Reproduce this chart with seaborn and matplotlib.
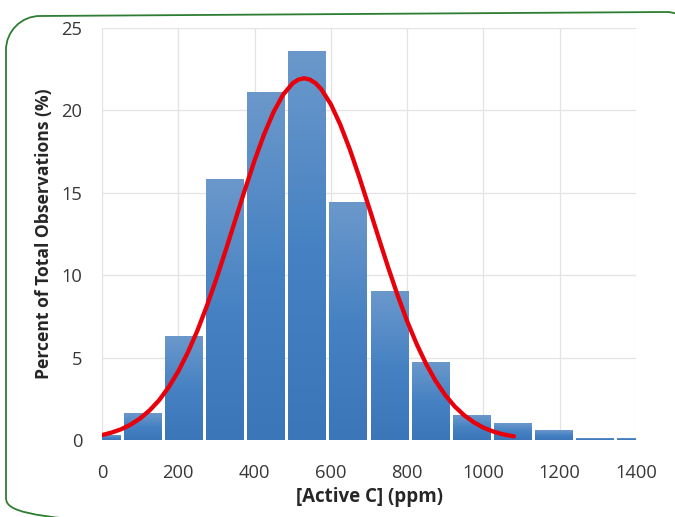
import numpy as np
import pandas as pd
import matplotlib
matplotlib.use("Agg")
import matplotlib.pyplot as plt
import seaborn as sns
from matplotlib.patches import PathPatch
from matplotlib.path import Path
from matplotlib.colors import LinearSegmentedColormap

# ---------------- data ----------------
bin_labels = ["b01", "b02", "b03", "b04", "b05", "b06", "b07",
              "b08", "b09", "b10", "b11", "b12", "b13", "b14"]
bin_percent = [0.3, 1.6, 6.3, 15.8, 21.1, 23.6, 14.4,
               9.0, 4.7, 1.5, 1.0, 0.6, 0.1, 0.1]

curve_x = [0, 25, 50, 75, 100, 125, 150, 175, 200, 225, 250, 275, 300,
           325, 350, 375, 400, 425, 450, 475, 500, 515, 530, 545, 560,
           575, 600, 625, 650, 675, 700, 725, 750, 775, 800, 825, 850,
           875, 900, 925, 950, 975, 1000, 1025, 1050, 1080]
curve_y = [0.30, 0.45, 0.65, 0.93, 1.31, 1.80, 2.42, 3.21, 4.17, 5.31,
           6.63, 8.14, 9.79, 11.56, 13.39, 15.21, 16.96, 18.55, 19.91,
           20.96, 21.65, 21.87, 21.95, 21.87, 21.65, 21.28, 20.37, 19.12,
           17.62, 15.92, 14.12, 12.29, 10.49, 8.78, 7.21, 5.82, 4.60, 3.57,
           2.72, 2.03, 1.49, 1.07, 0.75, 0.52, 0.35, 0.22]

x_ticks = [0, 200, 400, 600, 800, 1000, 1200, 1400]
y_ticks = [0, 5, 10, 15, 20, 25]

x_label = "[Active C] (ppm)"
y_label = "Percent of Total Observations (%)"

# ---------------- style ----------------
sns.set_style("white")
plt.rcParams["font.family"] = ["Open Sans", "DejaVu Sans"]

W, H = 675, 517
fig = plt.figure(figsize=(W / 100, H / 100), dpi=100)
fig.patch.set_facecolor("white")

left, right = 102 / W, 636 / W
bottom, top = (H - 440) / H, (H - 28) / H
ax = fig.add_axes([left, bottom, right - left, top - bottom])

# base axis: value scale, ticks, grid
ax.set_xlim(x_ticks[0], x_ticks[-1])
ax.set_ylim(y_ticks[0], y_ticks[-1])
ax.set_xticks(x_ticks)
ax.set_yticks(y_ticks)
ax.grid(True, color="#e3e3e3", linewidth=0.9)
for s in ax.spines.values():
    s.set_visible(False)
ax.tick_params(axis="both", length=0, labelsize=13.2, colors="#383838")
ax.tick_params(axis="x", pad=17)
ax.tick_params(axis="y", pad=14)
ax.set_xlabel(x_label, fontsize=13.5, fontweight="bold", color="#262626", labelpad=4)
ax.set_ylabel(y_label, fontsize=12.6, fontweight="bold", color="#262626", labelpad=6)

# bar layer: categorical axis
ax_bar = ax.twiny()
df = pd.DataFrame({"bin": bin_labels, "percent": bin_percent})
sns.barplot(data=df, x="bin", y="percent", ax=ax_bar, width=0.925,
            color="#4a86c6", saturation=1, edgecolor="none", linewidth=0)
cat_lo, cat_hi = 0, len(bin_labels) - 1
ax_bar.set_xlim(cat_lo, cat_hi)
ax_bar.set_ylim(y_ticks[0], y_ticks[-1])
ax_bar.set_xticks([])
ax_bar.set_xlabel("")
ax_bar.set_ylabel("")
for s in ax_bar.spines.values():
    s.set_visible(False)

cmap = LinearSegmentedColormap.from_list("barfill", ["#3a76b8", "#4682c3", "#6b98cb"])
grad = np.linspace(0, 1, 256).reshape(-1, 1)
for p in list(ax_bar.patches):
    x0, y0 = p.get_x(), p.get_y()
    w, h = p.get_width(), p.get_height()
    ex0, ex1 = max(x0, cat_lo), min(x0 + w, cat_hi)
    ax_bar.imshow(grad, extent=[ex0, ex1, y0, y0 + h], origin="lower",
                  cmap=cmap, aspect="auto", interpolation="bilinear", zorder=2)
    p.set_visible(False)
ax_bar.set_xlim(cat_lo, cat_hi)
ax_bar.set_ylim(y_ticks[0], y_ticks[-1])

# curve layer: value axis
ax_line = ax.twiny()
sns.lineplot(x=curve_x, y=curve_y, ax=ax_line, color="#e8000b",
             linewidth=3.1, solid_capstyle="round", solid_joinstyle="round")
ax_line.set_xlim(x_ticks[0], x_ticks[-1])
ax_line.set_ylim(y_ticks[0], y_ticks[-1])
ax_line.set_xticks([])
for s in ax_line.spines.values():
    s.set_visible(False)

# rounded green frame, described in pixel coordinates (y downwards)
K = 0.5523
def fp(x, y):
    return (x / W, 1 - y / H)

L, R, T_left, T_right, B = 6, 700, 16, 12, 531
r_tl, r_tr, r_b = 34, 34, 34
verts = [
    fp(L, B - r_b),
    fp(L, T_left + r_tl),
    fp(L, T_left + r_tl - K * r_tl), fp(L + r_tl - K * r_tl, T_left), fp(L + r_tl, T_left),
    fp(R - r_tr, T_right),
    fp(R - r_tr + K * r_tr, T_right), fp(R, T_right + r_tr - K * r_tr), fp(R, T_right + r_tr),
    fp(R, B - r_b),
    fp(R, B - r_b + K * r_b), fp(R - r_b + K * r_b, B), fp(R - r_b, B),
    fp(L + r_b, B),
    fp(L + r_b - K * r_b, B), fp(L, B - r_b + K * r_b), fp(L, B - r_b),
]
codes = ([Path.MOVETO, Path.LINETO] + [Path.CURVE4] * 3 + [Path.LINETO]
         + [Path.CURVE4] * 3 + [Path.LINETO] + [Path.CURVE4] * 3
         + [Path.LINETO] + [Path.CURVE4] * 3)
frame = PathPatch(Path(verts, codes), transform=fig.transFigure,
                  facecolor="none", edgecolor="#2e7d32", linewidth=1.3)
frame.set_clip_on(True)
frame.set_clip_box(fig.bbox)
frame.set_in_layout(False)
fig.patches.append(frame)

fig.savefig("out.png", dpi=100)
